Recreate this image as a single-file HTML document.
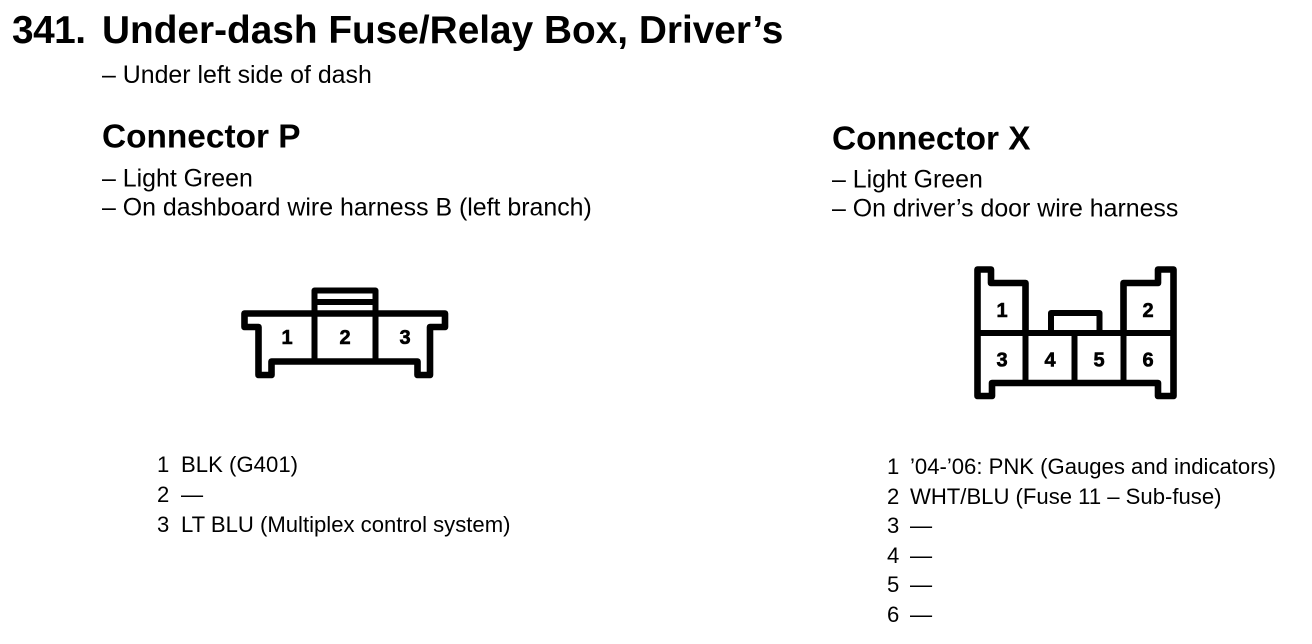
<!DOCTYPE html>
<html><head><meta charset="utf-8"><style>
html,body{margin:0;padding:0;background:#fff}
svg{display:block}
text{font-family:"Liberation Sans",sans-serif;fill:#000}
.b{font-size:24.9px}
.l{font-size:22.1px}
.h{font-size:33.4px;font-weight:bold}
.t{font-size:38.8px;font-weight:bold}
.n{font-size:20px;font-weight:bold;text-anchor:middle;stroke:#000;stroke-width:.6px}
path{fill:none;stroke:#000;stroke-width:6;stroke-linejoin:round}
path.o{stroke-width:6.6}
</style></head><body>
<svg width="1312" height="644" viewBox="0 0 1312 644" xmlns="http://www.w3.org/2000/svg">
<text class="t" x="12" y="43" style="letter-spacing:-.5px">341.</text>
<text class="t" x="102" y="43">Under-dash Fuse/Relay Box, Driver’s</text>
<text class="b" x="102" y="83">– Under left side of dash</text>
<text class="h" x="102" y="147.5">Connector P</text>
<text class="b" x="102" y="186.5">– Light Green</text>
<text class="b" x="102" y="215.5">– On dashboard wire harness B (left branch)</text>
<text class="h" x="832" y="149.5">Connector X</text>
<text class="b" x="832" y="187.5">– Light Green</text>
<text class="b" x="832" y="216.5">– On driver’s door wire harness</text>

<path class="o" d="M244.5 313.5H445V327H430V375H417.5V361.5H271.5V375H258.5V327H244.5Z"/>
<path d="M314.5 361.5V290.5H375.5V361.5M314.5 302H375.5"/>
<text class="n" x="287" y="344">1</text>
<text class="n" x="345" y="344">2</text>
<text class="n" x="405" y="344">3</text>

<path class="o" d="M1025.5 333V283H991V269.5H977.5V396H992V383H1158V396H1173.5V269.5H1158V283H1123.5V333"/>
<path d="M977.5 333H1173.5M1025.5 333V383M1074.5 333V383M1123.5 333V383M1051 333V313H1099.5V333"/>
<text class="n" x="1002" y="317">1</text>
<text class="n" x="1148" y="317">2</text>
<text class="n" x="1002" y="366.5">3</text>
<text class="n" x="1050" y="366.5">4</text>
<text class="n" x="1099" y="366.5">5</text>
<text class="n" x="1148" y="366.5">6</text>

<text class="l" x="157" y="472">1</text><text class="l" x="181" y="472" textLength="117">BLK (G401)</text>
<text class="l" x="157" y="502">2</text><text class="l" x="181" y="502">—</text>
<text class="l" x="157" y="532">3</text><text class="l" x="181" y="532">LT BLU (Multiplex control system)</text>

<text class="l" x="887" y="474">1</text><text class="l" x="910" y="474">’04-’06: PNK (Gauges and indicators)</text>
<text class="l" x="887" y="504">2</text><text class="l" x="910" y="504">WHT/BLU (Fuse 11 – Sub-fuse)</text>
<text class="l" x="887" y="533">3</text><text class="l" x="910" y="533">—</text>
<text class="l" x="887" y="563">4</text><text class="l" x="910" y="563">—</text>
<text class="l" x="887" y="592">5</text><text class="l" x="910" y="592">—</text>
<text class="l" x="887" y="622">6</text><text class="l" x="910" y="622">—</text>
</svg>
</body></html>
